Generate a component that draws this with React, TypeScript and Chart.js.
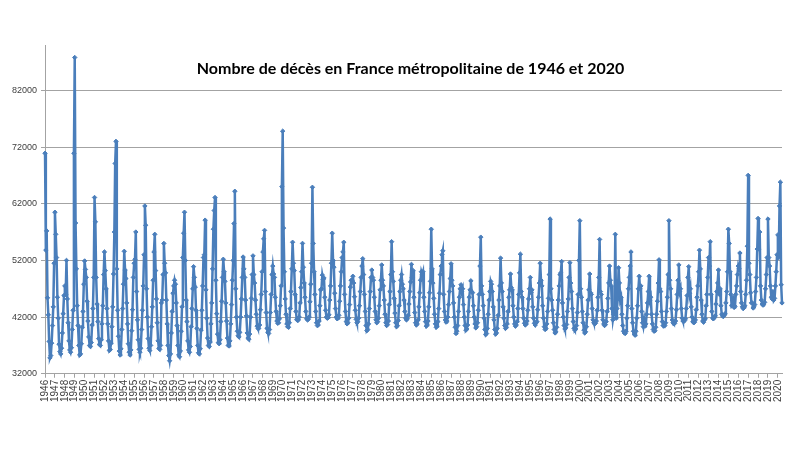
import React, { useEffect, useRef } from "react";
import { Chart, registerables } from "chart.js";

Chart.register(...registerables);

const TITLE = "Nombre de décès en France métropolitaine de 1946 et 2020";

const years = [
  1946, 1947, 1948, 1949, 1950, 1951, 1952, 1953, 1954, 1955,
  1956, 1957, 1958, 1959, 1960, 1961, 1962, 1963, 1964, 1965,
  1966, 1967, 1968, 1969, 1970, 1971, 1972, 1973, 1974, 1975,
  1976, 1977, 1978, 1979, 1980, 1981, 1982, 1983, 1984, 1985,
  1986, 1987, 1988, 1989, 1990, 1991, 1992, 1993, 1994, 1995,
  1996, 1997, 1998, 1999, 2000, 2001, 2002, 2003, 2004, 2005,
  2006, 2007, 2008, 2009, 2010, 2011, 2012, 2013, 2014, 2015,
  2016, 2017, 2018, 2019, 2020,
];

const yTickValues = [32000, 42000, 52000, 62000, 72000, 82000];

// Monthly deaths, January to December of each year
const deaths1946to1955 = [
  70900, 53800, 57200, 45400, 42400, 37700, 34800, 35200, 37400, 40500, 43800, 51500,
  60500, 56600, 52500, 45500, 41800, 37200, 35900, 35500, 36500, 39200, 42600, 45800,
  47500, 46000, 52000, 45200, 41000, 37800, 36200, 35800, 36600, 39800, 43200, 70900,
  87800, 58600, 50500, 44000, 40500, 37000, 35300, 35500, 37300, 40200, 43000, 47800,
  51900, 50400, 49000, 44800, 41300, 38500, 37000, 36800, 37500, 40600, 43500, 49000,
  63100, 58800, 49000, 44300, 41200, 38200, 37200, 37000, 38000, 40800, 44000, 49500,
  53500, 50200, 47000, 43500, 40800, 37800, 36100, 36300, 37400, 40300, 43800, 49600,
  57000, 69100, 73000, 50500, 43200, 38600, 36000, 35300, 36400, 39800, 43500, 47800,
  53600, 50300, 48800, 44500, 40800, 37300, 35800, 35300, 36200, 39600, 43300, 49000,
  51500, 52200, 57000, 46500, 41500, 38000, 36300, 35800, 36500, 39800, 43200, 47500,
];

const deaths1956to1965 = [
  53000, 61600, 58200, 47000, 42000, 38200, 36500, 36100, 37000, 40300, 43800, 48500,
  53500, 56600, 50200, 45200, 41000, 37800, 36500, 36300, 37000, 44500, 45000, 49500,
  55000, 51500, 49800, 45000, 40800, 37000, 35200, 34300, 35500, 39200, 43000, 46200,
  47500, 48500, 47800, 44500, 40500, 37000, 35300, 35000, 36000, 39500, 43800, 52500,
  56800, 60500, 52000, 45000, 41200, 37800, 36200, 35800, 36800, 40300, 43500, 47000,
  50900, 49000, 47300, 43200, 40000, 37000, 35700, 35500, 36400, 39700, 43200, 47500,
  52500, 53000, 59100, 46800, 41800, 38300, 37000, 36800, 37600, 40800, 44500, 50500,
  57500, 60800, 63100, 48500, 42600, 39000, 37500, 37300, 38000, 41200, 44800, 49000,
  52200, 50000, 48300, 44500, 41300, 38300, 37000, 36900, 37800, 40800, 44200, 48500,
  52000, 58500, 64200, 47000, 42000, 39500, 38700, 38500, 39300, 42000, 45200, 49000,
];

const deaths1966to1975 = [
  52600, 50500, 49000, 45000, 42200, 39200, 38300, 38100, 39000, 42000, 45300, 49500,
  52800, 49500, 48000, 45000, 42500, 40400, 40000, 40000, 40600, 43300, 46000, 50000,
  53500, 55800, 57300, 46500, 42800, 40000, 39300, 39100, 39800, 42800, 46000, 49500,
  51000, 49600, 49000, 45500, 43000, 41300, 40900, 41000, 41700, 44000, 47500, 65000,
  74800, 57700, 50000, 45200, 42500, 40800, 40300, 40200, 41000, 43500, 46500, 50500,
  55200, 51500, 50200, 46000, 43000, 41600, 41400, 41500, 42000, 44500, 47200, 50000,
  55000, 50800, 48000, 45500, 43000, 41700, 41500, 41600, 42000, 44700, 47800, 51500,
  64900, 55000, 50000, 46000, 43000, 41000, 40500, 40600, 41300, 44000, 46800, 47000,
  49400, 48600, 48900, 45500, 43200, 42000, 41800, 41900, 42400, 45000, 47500, 51500,
  56800, 52000, 50800, 46200, 43500, 42000, 41700, 41800, 42300, 44800, 47500, 50000,
];

const deaths1976to1985 = [
  52500, 53500, 55200, 46000, 43000, 41200, 40800, 41000, 41800, 44200, 47300, 48500,
  48500, 49200, 48000, 45600, 43200, 41600, 41000, 41200, 41800, 44000, 46500, 49000,
  51000, 52300, 49500, 46000, 43000, 40500, 39600, 39800, 40800, 43500, 46500, 49000,
  50300, 49000, 48500, 45500, 43000, 41500, 41000, 41200, 41800, 44000, 46800, 48500,
  51200, 48500, 47500, 45000, 42500, 41000, 40500, 40700, 41300, 44200, 46500, 49500,
  55300, 50000, 48300, 45300, 42700, 41000, 40300, 40500, 41400, 44000, 46500, 48500,
  49500, 47800, 47000, 45000, 43000, 41800, 41500, 41700, 42300, 44300, 46500, 48200,
  51300, 49000, 50200, 45500, 42800, 41000, 40600, 40800, 41500, 43800, 46300, 48500,
  50000, 49500, 50000, 45500, 43000, 41200, 40400, 40600, 41300, 43800, 46300, 48300,
  57500, 50500, 48000, 45300, 42500, 40800, 40200, 40400, 41200, 43500, 46200, 49500,
];

const deaths1986to1995 = [
  51000, 53000, 53700, 46000, 43000, 41500, 41100, 41300, 42000, 44200, 46500, 48800,
  51400, 48500, 47500, 44500, 42000, 40200, 39100, 39500, 40500, 43000, 45500, 47000,
  47700, 46500, 47000, 44200, 42000, 40500, 39700, 39900, 40600, 43000, 45500, 46800,
  48400, 46500, 46300, 44000, 42000, 40800, 40100, 40300, 41000, 43200, 46000, 51000,
  56100, 47500, 46000, 44000, 41800, 39800, 38900, 39100, 40000, 42500, 45000, 46500,
  48300, 47800, 46500, 43800, 41500, 39800, 39000, 39200, 40000, 42300, 45000, 47500,
  52400, 48000, 46500, 43800, 41800, 40500, 40000, 40200, 40800, 43000, 45500, 46800,
  49600, 47200, 46800, 44000, 42000, 40800, 40400, 40600, 41200, 43500, 46000, 49800,
  53100, 46500, 45500, 43500, 41800, 40900, 40600, 40800, 41300, 43200, 45200, 47000,
  49000, 46300, 46800, 43800, 41800, 40900, 40600, 41000, 41200, 43300, 45500, 48000,
];

const deaths1996to2005 = [
  51500, 48500, 47500, 44000, 41800, 40300, 39800, 40000, 40800, 43000, 45300, 49500,
  59300, 47000, 45000, 43200, 41000, 39800, 39200, 39400, 40200, 42500, 45000, 47500,
  49500, 49800, 51800, 44500, 42000, 40500, 39900, 40100, 40700, 43000, 45200, 49000,
  51600, 48000, 46500, 43500, 41200, 40000, 39700, 39900, 40500, 42800, 46000, 52000,
  59000, 47000, 45500, 43000, 41000, 39700, 39200, 39400, 40300, 42500, 45000, 46800,
  49600, 46300, 46000, 43500, 41500, 41000, 40800, 40900, 41300, 43200, 45500, 49000,
  55700, 46500, 46000, 43200, 41500, 40800, 40500, 40700, 41200, 43000, 45300, 48000,
  51000, 48500, 47500, 43500, 41500, 42500, 43000, 56600, 41800, 43500, 45300, 50700,
  48000, 45000, 45500, 42500, 40500, 39500, 39200, 39100, 39500, 41800, 44000, 47000,
  49000, 51000, 53500, 43500, 41000, 39500, 39000, 38800, 39500, 41800, 44000, 47000,
];

const deaths2006to2015 = [
  49200, 47000, 47500, 43000, 41000, 40300, 41500, 40400, 40800, 42500, 44500, 46500,
  49200, 45000, 45500, 42500, 40800, 39800, 39500, 39600, 40200, 42500, 44800, 48000,
  52100, 47000, 46500, 43000, 41200, 40500, 40400, 40500, 41000, 43000, 45500, 49500,
  59000, 48500, 47000, 43500, 41500, 41000, 40800, 40900, 41300, 43300, 46000, 48500,
  51200, 46500, 47000, 43500, 41800, 41300, 41200, 41400, 41700, 43500, 45800, 49000,
  50900, 46200, 47000, 43800, 42000, 41200, 41000, 41100, 41500, 43300, 45500, 47500,
  50000, 53800, 50500, 45000, 42500, 41300, 41100, 41500, 41700, 44000, 46000, 49000,
  52500, 51000, 55300, 46000, 43000, 41800, 41700, 41900, 42200, 44300, 46500, 48000,
  50300, 46000, 47000, 44000, 42500, 42200, 42100, 42300, 42600, 44500, 46500, 50000,
  57500, 55000, 50000, 46000, 44000, 44200, 45500, 43700, 43900, 46000, 47500, 49500,
];

const deaths2016to2020 = [
  51000, 50500, 53300, 46500, 44500, 43800, 43500, 43700, 44000, 46000, 48500, 54500,
  67000, 51500, 49500, 46300, 44500, 44500, 43600, 43800, 44200, 46500, 49000, 54000,
  59400, 54000, 57000, 47500, 45000, 44300, 44100, 44300, 44600, 47000, 49500, 52500,
  59300, 52500, 51000, 47500, 45500, 45200, 46500, 45000, 45300, 47500, 50000, 53000,
  56500, 52500, 61600, 65800, 47700, 44500,
];

const deaths = [
  ...deaths1946to1955,
  ...deaths1956to1965,
  ...deaths1966to1975,
  ...deaths1976to1985,
  ...deaths1986to1995,
  ...deaths1996to2005,
  ...deaths2006to2015,
  ...deaths2016to2020,
];

const monthLabels = deaths.map((_, i) => String(years[Math.floor(i / 12)]));

const LINE_COLOR = "#4a7ebb";
const GRID_COLOR = "#a3a3a3";

const titlePlugin = {
  id: "insideTitle",
  afterDraw(chart: any) {
    const { ctx, chartArea } = chart;
    ctx.save();
    ctx.font = "bold 16px Lato, 'Open Sans', sans-serif";
    ctx.fillStyle = "#000";
    ctx.textAlign = "center";
    ctx.textBaseline = "alphabetic";
    ctx.fillText(TITLE, (chartArea.left + chartArea.right) / 2 - 3, chartArea.top + 29);
    ctx.restore();
  },
};

export default function App() {
  const canvasRef = useRef<HTMLCanvasElement | null>(null);

  useEffect(() => {
    if (!canvasRef.current) return;
    const chart = new Chart(canvasRef.current, {
      type: "line",
      data: {
        labels: monthLabels,
        datasets: [
          {
            label: "Décès",
            data: deaths,
            borderColor: LINE_COLOR,
            backgroundColor: LINE_COLOR,
            borderWidth: 2.5,
            tension: 0,
            pointStyle: "rectRot",
            pointRadius: 2.2,
            pointBorderWidth: 1,
            pointBackgroundColor: LINE_COLOR,
            pointBorderColor: LINE_COLOR,
            fill: false,
          },
        ],
      },
      options: {
        animation: false,
        responsive: true,
        maintainAspectRatio: false,
        layout: { padding: { left: 8, right: 18, top: 45, bottom: 46 } },
        plugins: {
          legend: { display: false },
          tooltip: { enabled: false },
          title: { display: false },
        },
        scales: {
          x: {
            type: "category",
            offset: false,
            grid: {
              drawOnChartArea: false,
              drawTicks: true,
              tickLength: 4,
              color: GRID_COLOR,
            },
            border: { display: true, color: GRID_COLOR },
            ticks: {
              autoSkip: false,
              maxRotation: 90,
              minRotation: 90,
              padding: 2,
              color: "#404040",
              font: { family: "'Liberation Sans', Arial, sans-serif", size: 10 },
              callback: (_v: any, i: number) => (i % 12 === 0 ? monthLabels[i] : null),
            },
          },
          y: {
            type: "linear",
            min: 32000,
            max: 90000,
            afterBuildTicks: (axis: any) => {
              axis.ticks = yTickValues.map((v) => ({ value: v }));
            },
            grid: { color: GRID_COLOR, lineWidth: 1, tickLength: 4 },
            border: { display: true, color: GRID_COLOR },
            ticks: {
              padding: 4,
              color: "#404040",
              font: { family: "'Liberation Sans', Arial, sans-serif", size: 9 },
              callback: (v: any) => String(v),
            },
          },
        },
      },
      plugins: [titlePlugin],
    });
    return () => chart.destroy();
  }, []);

  return (
    <div style={{ position: "absolute", left: 0, top: 0, width: 800, height: 450, background: "#fff" }}>
      <canvas ref={canvasRef} />
    </div>
  );
}
